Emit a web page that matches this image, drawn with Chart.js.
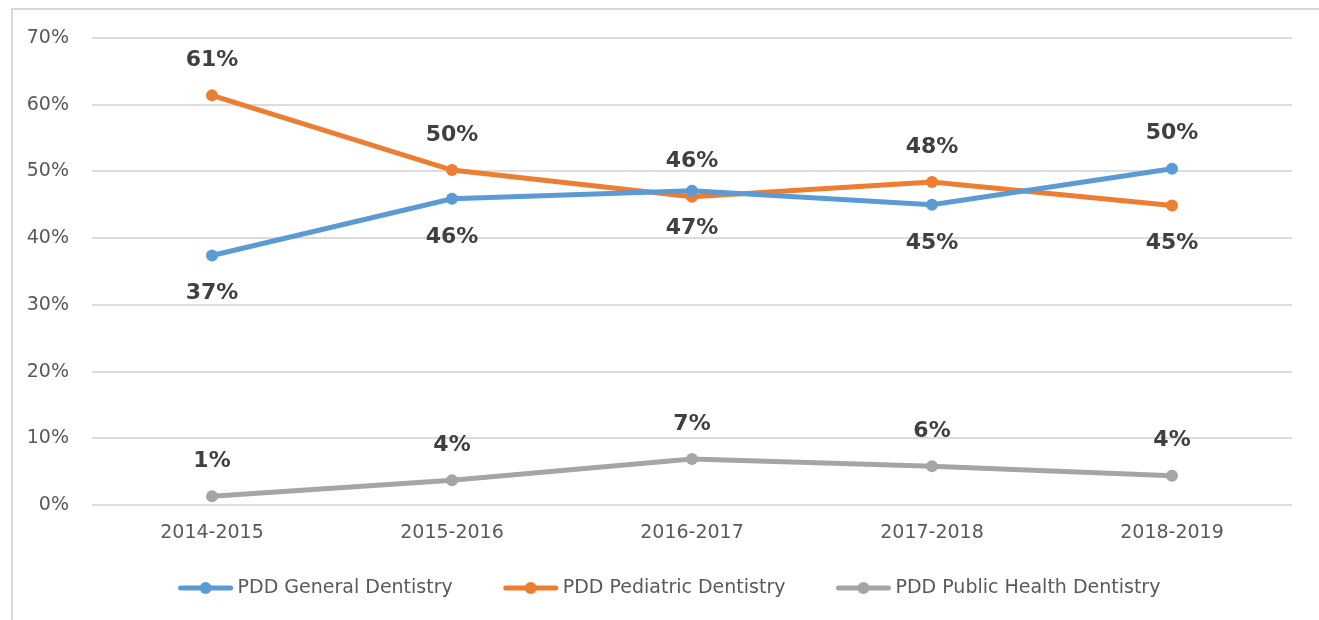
<!DOCTYPE html>
<html>
<head>
<meta charset="utf-8">
<script src="https://cdn.jsdelivr.net/npm/chart.js@4/dist/chart.umd.min.js"></script>
<style>
  html, body { margin: 0; padding: 0; background: #ffffff; overflow: hidden; }
  #wrap { position: relative; width: 1319px; height: 620px; }
  #frame { position: absolute; left: 11px; top: 8px; width: 1400px; height: 700px; border: 2px solid #d9d9d9; box-sizing: border-box; }
  canvas { position: absolute; left: 0; top: 0; }
</style>
</head>
<body>
<div id="wrap">
  <div id="frame"></div>
  <canvas id="c" width="1319" height="620"></canvas>
</div>
<script>
const categories = ['2014-2015', '2015-2016', '2016-2017', '2017-2018', '2018-2019'];
const generalDentistry = [37.4, 45.9, 47.1, 45.0, 50.4];
const pediatricDentistry = [61.4, 50.2, 46.2, 48.4, 44.9];
const publicHealthDentistry = [1.3, 3.7, 6.9, 5.8, 4.4];
const yTicks = [0, 10, 20, 30, 40, 50, 60, 70];
const seriesNames = ['PDD General Dentistry', 'PDD Pediatric Dentistry', 'PDD Public Health Dentistry'];
const generalLabelPos = ['below', 'below', 'below', 'below', 'above'];
const pediatricLabelPos = ['above', 'above', 'above', 'above', 'below'];
const publicLabelPos = ['above', 'above', 'above', 'above', 'above'];

const COLORS = ['#5B9BD5', '#ED7D31', '#A5A5A5'];
const FONT = '"DejaVu Sans", sans-serif';

function mkDataset(label, data, color, positions) {
  return {
    label, data,
    borderColor: color,
    backgroundColor: color,
    pointBackgroundColor: color,
    pointBorderWidth: 0,
    pointRadius: 6,
    borderWidth: 5,
    tension: 0,
    labelPositions: positions
  };
}

const dataLabelPlugin = {
  id: 'dataLabels',
  afterDatasetsDraw(chart) {
    const ctx = chart.ctx;
    ctx.save();
    ctx.font = 'bold 22px ' + FONT;
    ctx.fillStyle = '#404040';
    ctx.textAlign = 'center';
    ctx.textBaseline = 'middle';
    chart.data.datasets.forEach((ds, di) => {
      const meta = chart.getDatasetMeta(di);
      meta.data.forEach((pt, i) => {
        const pos = ds.labelPositions[i];
        const y = pos === 'above' ? pt.y - 35 : pt.y + 38;
        ctx.fillText(Math.round(ds.data[i]) + '%', pt.x, y);
      });
    });
    ctx.restore();
  }
};

const legendPlugin = {
  id: 'customLegend',
  afterDraw(chart) {
    const ctx = chart.ctx;
    ctx.save();
    ctx.font = '19px ' + FONT;
    const lineLen = 54, gapText = 5, itemGap = 51;
    const widths = chart.data.datasets.map(ds => ctx.measureText(ds.label).width);
    const total = widths.reduce((a, b) => a + b, 0) + 3 * (lineLen + gapText) + 2 * itemGap;
    let x = chart.width / 2 + 10 - total / 2;
    const y = 588;
    chart.data.datasets.forEach((ds, i) => {
      ctx.strokeStyle = ds.borderColor;
      ctx.lineWidth = 5;
      ctx.lineCap = 'round';
      ctx.beginPath();
      ctx.moveTo(x + 2, y);
      ctx.lineTo(x + lineLen - 2, y);
      ctx.stroke();
      ctx.fillStyle = ds.borderColor;
      ctx.beginPath();
      ctx.arc(x + lineLen / 2, y, 6, 0, Math.PI * 2);
      ctx.fill();
      ctx.fillStyle = '#595959';
      ctx.textAlign = 'left';
      ctx.textBaseline = 'middle';
      ctx.fillText(ds.label, x + lineLen + gapText, y);
      x += lineLen + gapText + widths[i] + itemGap;
    });
    ctx.restore();
  }
};

new Chart(document.getElementById('c'), {
  type: 'line',
  data: {
    labels: categories,
    datasets: [
      mkDataset(seriesNames[0], generalDentistry, COLORS[0], generalLabelPos),
      mkDataset(seriesNames[1], pediatricDentistry, COLORS[1], pediatricLabelPos),
      mkDataset(seriesNames[2], publicHealthDentistry, COLORS[2], publicLabelPos)
    ]
  },
  options: {
    responsive: false,
    animation: false,
    devicePixelRatio: 1,
    layout: { padding: { left: 12, right: 27, top: 38, bottom: 65 } },
    plugins: {
      legend: { display: false },
      tooltip: { enabled: false }
    },
    scales: {
      x: {
        offset: true,
        grid: { display: false, drawTicks: false },
        border: { display: false },
        ticks: { color: '#595959', font: { family: FONT, size: 19 }, padding: 17, maxRotation: 0 },
        afterFit(scale) { scale.height = 50; }
      },
      y: {
        min: 0,
        max: 70,
        afterBuildTicks(scale) { scale.ticks = yTicks.map(v => ({ value: v })); },
        grid: { color: '#dcdcdc', lineWidth: 2, drawTicks: false },
        border: { display: false },
        ticks: {
          color: '#595959',
          font: { family: FONT, size: 19 },
          padding: 23,
          callback: v => v + '%'
        },
        afterFit(scale) { scale.width = 80; }
      }
    }
  },
  plugins: [dataLabelPlugin, legendPlugin]
});
</script>
</body>
</html>
